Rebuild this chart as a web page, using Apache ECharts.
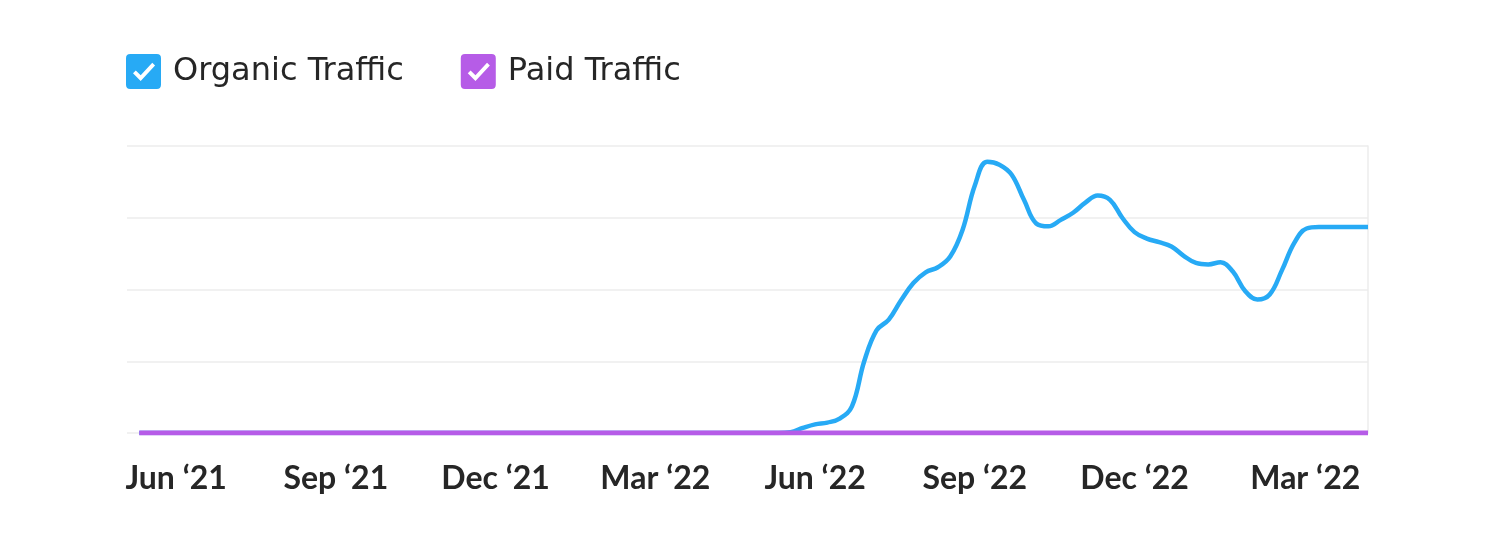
<!DOCTYPE html>
<html>
<head>
<meta charset="utf-8">
<script src="https://cdn.jsdelivr.net/npm/echarts@6/dist/echarts.min.js"></script>
<style>
  html, body { margin: 0; padding: 0; background: #fff; }
  #traffic_chart { width: 1500px; height: 550px; }
</style>
</head>
<body>
<div id="traffic_chart"></div>
<script>
// weekly traffic, week 0 = start of Jun '21
var firstWeek = -3;
var organic = [
    0, 0, 0, 0, 0, 0, 0, 0, 0, 0,
    0, 0, 0, 0, 0, 0, 0, 0, 0, 0,
    0, 0, 0, 0, 0, 0, 0, 0, 0, 0,
    0, 0, 0, 0, 0, 0, 0, 0, 0, 0,
    0, 0, 0, 0, 0, 0, 0, 0, 0, 0,
    0, 0, 0,
    0.01, 0.07, 0.12, 0.145, 0.2, 0.37, 1.0, 1.43, 1.58, 1.85,
    2.09, 2.24, 2.31, 2.46, 2.83, 3.45, 3.78, 3.74, 3.6, 3.25,
    2.92, 2.88, 2.97, 3.07, 3.21, 3.31, 3.25, 3.0, 2.8, 2.71,
    2.66, 2.60, 2.47, 2.37, 2.35, 2.38, 2.25, 1.98, 1.86, 1.93,
    2.27, 2.65, 2.85, 2.87, 2.87, 2.87, 2.87, 2.87
];
var paid = [
    0, 0, 0, 0, 0, 0, 0, 0, 0, 0,
    0, 0, 0, 0, 0, 0, 0, 0, 0, 0,
    0, 0, 0, 0, 0, 0, 0, 0, 0, 0,
    0, 0, 0, 0, 0, 0, 0, 0, 0, 0,
    0, 0, 0, 0, 0, 0, 0, 0, 0, 0,
    0, 0, 0, 0, 0, 0, 0, 0, 0, 0,
    0, 0, 0, 0, 0, 0, 0, 0, 0, 0,
    0, 0, 0, 0, 0, 0, 0, 0, 0, 0,
    0, 0, 0, 0, 0, 0, 0, 0, 0, 0,
    0, 0, 0, 0, 0, 0, 0, 0, 0, 0,
    0
];
var tickWeeks = [0, 13, 26, 39, 52, 65, 78, 91];
var tickLabels = ['Jun ‘21', 'Sep ‘21', 'Dec ‘21', 'Mar ‘22', 'Jun ‘22', 'Sep ‘22', 'Dec ‘22', 'Mar ‘22'];

// checkbox: rounded square with the tick cut out
var checkIcon = 'path://M12,0 H88 Q100,0 100,12 V88 Q100,100 88,100 H12 Q0,100 0,88 V12 Q0,0 12,0 Z ' +
    'M20,55 L42,77 L83,33 L75,25 L42,61 L28,47 Z';

function toPairs(arr) {
    return arr.map(function (v, i) { return [i + firstWeek, v]; });
}

var myChart = echarts.init(document.getElementById('traffic_chart'));
var option = {
    animation: false,
    legend: {
        left: 126,
        top: 54,
        padding: 0,
        icon: checkIcon,
        itemWidth: 35,
        itemHeight: 35,
        itemGap: 57,
        textStyle: {
            fontFamily: 'DejaVu Sans',
            fontSize: 32,
            color: '#262626',
            padding: [6, 0, 0, 7]
        },
        data: ['Organic Traffic', 'Paid Traffic']
    },
    grid: {
        left: 127,
        right: 132,
        top: 146,
        bottom: 117
    },
    xAxis: {
        type: 'value',
        min: -4,
        max: 97,
        axisLine: { show: false },
        axisTick: { show: false },
        splitLine: { show: false },
        axisLabel: {
            customValues: tickWeeks,
            margin: 30,
            fontFamily: 'Lato',
            fontWeight: 'bold',
            fontSize: 32,
            color: '#262626',
            formatter: function (v) {
                var i = tickWeeks.indexOf(v);
                return i === tickWeeks.length - 1 ? '{last|' + tickLabels[i] + '}' : tickLabels[i];
            },
            rich: {
                last: {
                    fontFamily: 'Lato',
                    fontWeight: 'bold',
                    fontSize: 32,
                    color: '#262626',
                    padding: [0, 0, 0, 22]
                }
            }
        }
    },
    yAxis: {
        type: 'value',
        position: 'right',
        min: 0,
        max: 4,
        interval: 1,
        axisLine: { show: true, onZero: false, lineStyle: { color: '#ececec', width: 1.5 } },
        axisTick: { show: false },
        axisLabel: { show: false },
        splitLine: { lineStyle: { color: '#ececec', width: 1.5 } }
    },
    series: [
        {
            name: 'Organic Traffic',
            type: 'line',
            data: toPairs(organic),
            smooth: 0.4,
            showSymbol: false,
            symbol: 'none',
            color: '#27aaf5',
            lineStyle: { width: 4.5, color: '#27aaf5' }
        },
        {
            name: 'Paid Traffic',
            type: 'line',
            data: toPairs(paid),
            showSymbol: false,
            symbol: 'none',
            color: '#b65ce7',
            lineStyle: { width: 5, color: '#b65ce7' }
        }
    ]
};
myChart.setOption(option);
</script>
</body>
</html>
